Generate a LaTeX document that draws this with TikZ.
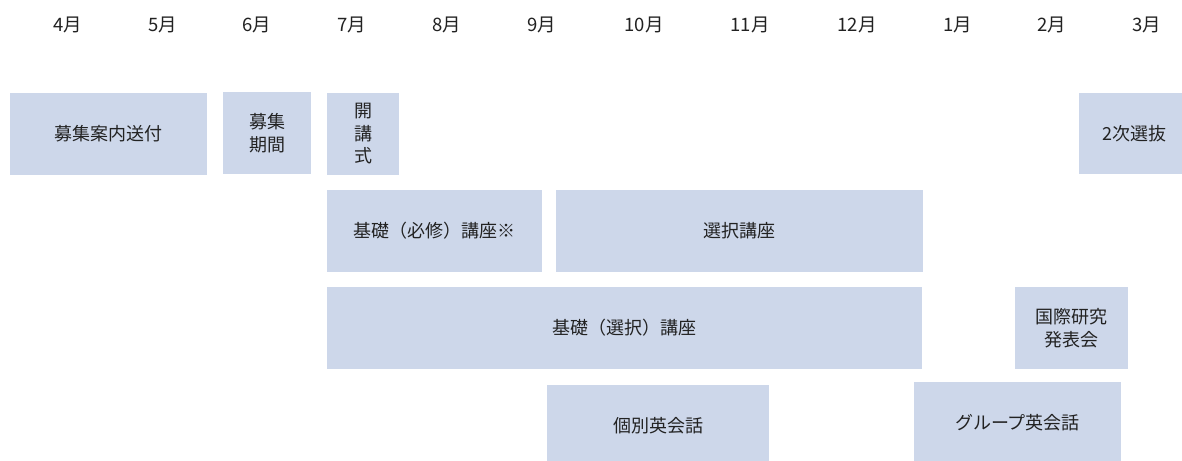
\documentclass[tikz,border=0pt]{standalone}
\usepackage{fontspec}
\setmainfont{Noto Sans CJK JP}
\definecolor{boxfill}{HTML}{CDD7EA}
\definecolor{txt}{HTML}{222222}
\tikzset{
  box/.style={fill=boxfill, draw=none, inner sep=0pt, text=txt, align=center,
    font=\fontsize{18}{22.5}\selectfont},
  month/.style={text=txt, inner sep=0pt, font=\fontsize{18.5}{20}\selectfont}
}
\begin{document}
\begin{tikzpicture}[x=1pt,y=-1pt]
\useasboundingbox (0,0) rectangle (1182,460);
\clip (0,0) rectangle (1182,460);
\fill[white] (0,0) rectangle (1182,460);
% months
\node[month] (m4) at (68,25) {4月};
\node[month] (m5) at (163,25) {5月};
\node[month] (m6) at (257,25) {6月};
\node[month] (m7) at (352,25) {7月};
\node[month] (m8) at (447,25) {8月};
\node[month] (m9) at (542,25) {9月};
\node[month] (m10) at (644,25) {10月};
\node[month] (m11) at (750,25) {11月};
\node[month] (m12) at (857,25) {12月};
\node[month] (m1) at (958,25) {1月};
\node[month] (m2) at (1052,25) {2月};
\node[month] (m3) at (1147,25) {3月};
% boxes
\node[box, minimum width=197pt, minimum height=82pt] (a) at (108.5,134) {募集案内送付};
\node[box, minimum width=88pt, minimum height=82pt] (b) at (267,133) {募集\\期間};
\node[box, minimum width=72pt, minimum height=82pt] (c) at (363,134) {開\\講\\式};
\node[box, minimum width=111pt, minimum height=81pt] (d) at (1134.5,133.5) {2次選抜};
\node[box, minimum width=215pt, minimum height=82pt] (e) at (434.5,231) {基礎（必修）講座※};
\node[box, minimum width=367pt, minimum height=82pt] (f) at (739.5,231) {選択講座};
\node[box, minimum width=595pt, minimum height=82pt] (g) at (624.5,328) {基礎（選択）講座};
\node[box, minimum width=113pt, minimum height=82pt] (h) at (1071.5,328) {国際研究\\発表会};
\node[box, minimum width=222pt, minimum height=82pt] (i) at (658,426) {個別英会話};
\node[box, minimum width=207pt, minimum height=82pt] (j) at (1017.5,423) {グループ英会話};
\end{tikzpicture}
\end{document}
